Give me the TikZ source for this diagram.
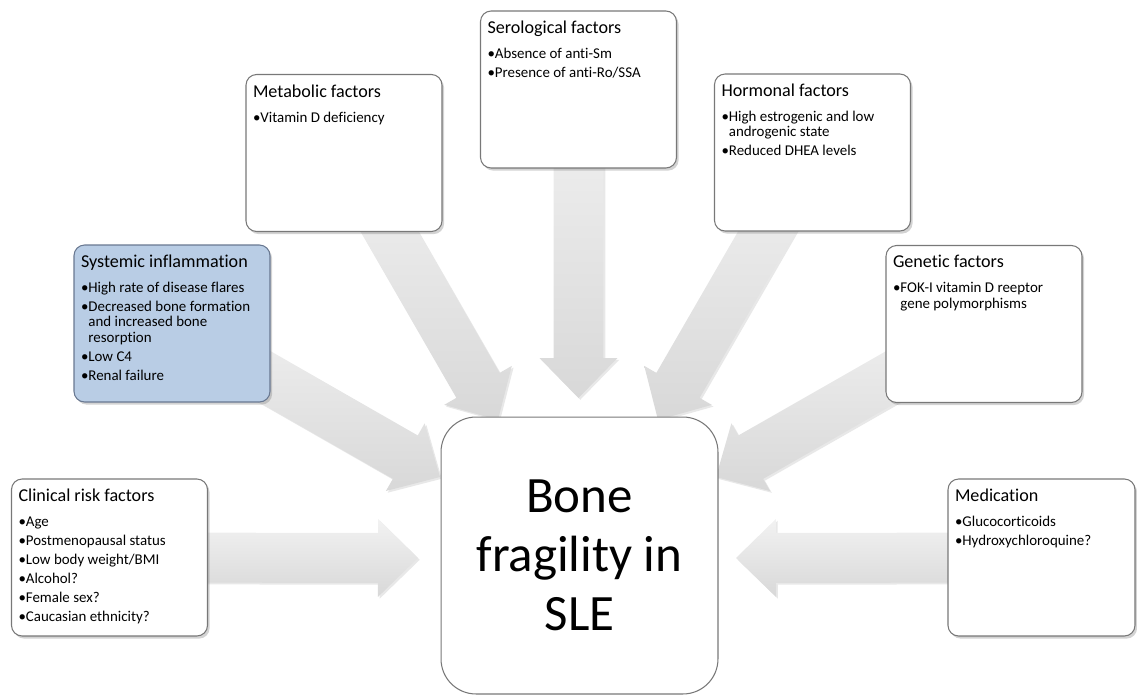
\documentclass[tikz,border=0pt]{standalone}
\usepackage{fontspec}
\setmainfont{Carlito}[Ligatures=NoCommon]
\usetikzlibrary{calc,shadows,backgrounds,positioning}
\definecolor{boxline}{RGB}{120,120,120}
\definecolor{inflblue}{RGB}{185,205,229}
\definecolor{inflline}{RGB}{105,120,145}
\definecolor{arrowlight}{RGB}{242,242,242}
\definecolor{arrowdark}{RGB}{216,216,216}

\newlength\bulw
\setlength\bulw{4.2pt}
\newcommand\bitem[1]{\par\hangindent=\bulw\hangafter=1\noindent\makebox[\bulw][l]{•}#1}
\newcommand\factor[3][3.64cm]{%
  \begin{minipage}[c][2.74cm][t]{#1}\raggedright
    {\fontsize{10.3}{12}\selectfont #2\par}
    \vspace{3.4pt}
    \fontsize{8.5}{8.8}\selectfont\setlength\parskip{2pt}#3
  \end{minipage}}
\newcommand\bigarrow[2]{%
  \coordinate (headbase) at ($(#2)!0.8cm!(#1)$);
  \shade[arrowfill] ($(#1)!0.5cm!-90:(#2)$) -- ($(headbase)!0.5cm!90:(#1)$)
    -- ($(headbase)!0.78cm!90:(#1)$) -- (#2)
    -- ($(headbase)!0.78cm!-90:(#1)$) -- ($(headbase)!0.5cm!-90:(#1)$)
    -- ($(#1)!0.5cm!90:(#2)$) -- cycle;}

\begin{document}
\begin{tikzpicture}[x=0.02cm, y=-0.02cm,
  factorbox/.style={rectangle, draw=boxline, line width=0.6pt, fill=white,
    rounded corners=6pt, minimum width=3.92cm, minimum height=3.14cm, inner sep=0pt,
    drop shadow={opacity=0.35, shadow xshift=1.2pt, shadow yshift=-1.5pt}},
  bonebox/.style={rectangle, draw=boxline, line width=0.6pt, fill=white,
    rounded corners=0.7cm, minimum size=5.54cm, align=center,
    font=\fontsize{29}{33.5}\selectfont},
  arrowfill/.style={top color=arrowlight, bottom color=arrowdark,
    drop shadow={opacity=0.18, shadow xshift=1pt, shadow yshift=-1pt}}]

  \useasboundingbox (0,0) rectangle (1137,697);

  % factor boxes
  \node[factorbox] (clin) at (109.5,557.5) {\factor{Clinical risk factors}{%
    \bitem{Age}\bitem{Postmenopausal status}\bitem{Low body weight/BMI}%
    \bitem{Alcohol?}\bitem{Female sex?}\bitem{Caucasian ethnicity?}}};
  \node[factorbox, fill=inflblue, draw=inflline] (syst) at (172,323.5) {\factor{Systemic inflammation}{%
    \bitem{High rate of disease flares}%
    \bitem{Decreased bone formation\newline and increased bone\newline resorption}%
    \bitem{Low C4}\bitem{Renal failure}}};
  \node[factorbox] (meta) at (344,153) {\factor{Metabolic factors}{%
    \bitem{Vitamin D deficiency}}};
  \node[factorbox] (sero) at (578.5,89.5) {\factor{Serological factors}{%
    \bitem{Absence of anti-Sm}\bitem{Presence of anti-Ro/SSA}}};
  \node[factorbox] (horm) at (812.5,152.5) {\factor{Hormonal factors}{%
    \bitem{High estrogenic and low\newline androgenic state}\bitem{Reduced DHEA levels}}};
  \node[factorbox] (gene) at (984,324) {\factor{Genetic factors}{%
    \bitem{FOK-I vitamin D reeptor\newline gene polymorphisms}}};
  \node[factorbox, minimum width=3.74cm] (medi) at (1041.5,557.5) {\factor[3.46cm]{Medication}{%
    \bitem{Glucocorticoids}\bitem{Hydroxychloroquine?}}};

  % centre
  \node[bonebox] (bone) at (579.5,555.5) {Bone\\fragility in\\SLE};

  % arrow tips
  \coordinate (tclin) at (418,558);
  \coordinate (tsyst) at (440,477);
  \coordinate (tmeta) at (498,420);
  \coordinate (tsero) at (578.5,398);
  \coordinate (thorm) at (658,420);
  \coordinate (tgene) at (716,477);
  \coordinate (tmedi) at (736,558);

  \begin{scope}[on background layer]
    \foreach \src/\tip in {clin/tclin, syst/tsyst, meta/tmeta, sero/tsero,
                           horm/thorm, gene/tgene, medi/tmedi}
      \bigarrow{\src}{\tip};
  \end{scope}

\end{tikzpicture}
\end{document}
